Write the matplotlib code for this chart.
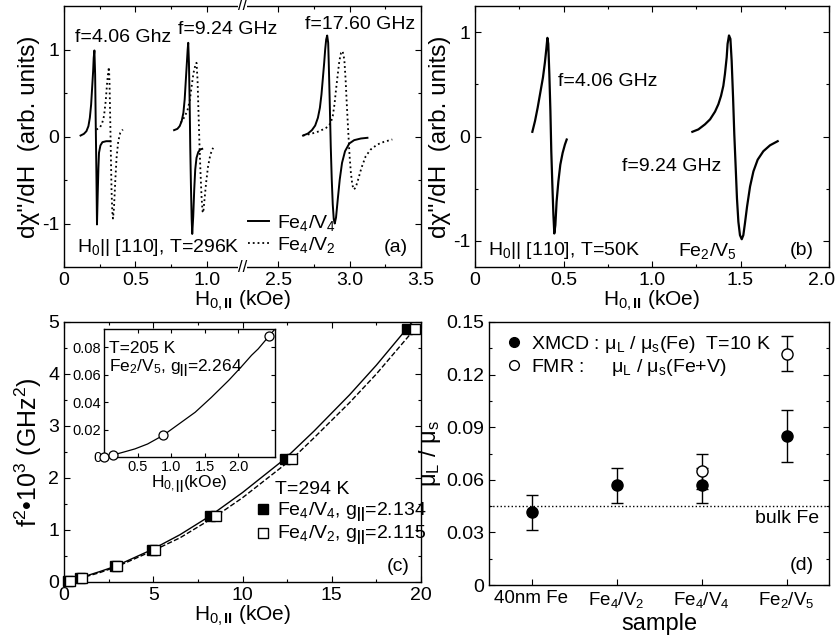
import numpy as np
import matplotlib.pyplot as plt
from matplotlib.lines import Line2D
from matplotlib.transforms import ScaledTranslation

plt.rcParams['font.family'] = ['Liberation Sans', 'DejaVu Sans']
plt.rcParams['mathtext.fontset'] = 'custom'
plt.rcParams['mathtext.rm'] = 'Liberation Sans'
plt.rcParams['mathtext.it'] = 'Liberation Sans:italic'
plt.rcParams['mathtext.bf'] = 'Liberation Sans:bold'
plt.rcParams['axes.unicode_minus'] = False

# ---- panel (a): FMR derivative spectra at 296 K (field in kOe, broken axis) ----
a1_s_x = [0.116, 0.139, 0.157, 0.171, 0.181, 0.190, 0.197, 0.204, 0.208, 0.213, 0.218, 0.222, 0.227,
          0.231, 0.236, 0.241, 0.245, 0.255, 0.269, 0.296, 0.324]
a1_s_y = [0.011, 0.03, 0.061, 0.119, 0.215, 0.368, 0.559, 0.751, 0.904, 0.989, 0.713, 0.176, -0.437,
          -1.011, -0.667, -0.36, -0.188, -0.103, -0.065, -0.054, -0.054]
a1_d_x = [0.227, 0.250, 0.266, 0.280, 0.292, 0.301, 0.310, 0.315, 0.319, 0.324, 0.329, 0.333, 0.338,
          0.343, 0.350, 0.359, 0.368, 0.380, 0.394, 0.412]
a1_d_y = [0.08, 0.10, 0.146, 0.234, 0.406, 0.598, 0.751, 0.797, 0.598, 0.176, -0.284, -0.628, -0.858,
          -0.943, -0.82, -0.513, -0.245, -0.054, 0.042, 0.08]
a2_s_x = [0.771, 0.794, 0.810, 0.824, 0.836, 0.845, 0.852, 0.859, 0.866, 0.870, 0.875, 0.880, 0.884,
          0.889, 0.894, 0.898, 0.905, 0.912, 0.919, 0.928, 0.940, 0.954, 0.968]
a2_s_y = [0.073, 0.088, 0.119, 0.176, 0.272, 0.425, 0.617, 0.808, 1.0, 1.077, 0.847, 0.387, -0.111,
          -0.571, -0.95, -1.12, -0.918, -0.609, -0.379, -0.245, -0.18, -0.149, -0.142]
a2_d_x = [0.817, 0.840, 0.863, 0.880, 0.894, 0.907, 0.921, 0.928, 0.935, 0.942, 0.949, 0.956, 0.963,
          0.970, 0.975, 0.984, 0.995, 1.009, 1.025, 1.044]
a2_d_y = [0.157, 0.215, 0.291, 0.406, 0.579, 0.732, 0.828, 0.847, 0.655, 0.272, -0.111, -0.418, -0.686,
          -0.858, -0.877, -0.724, -0.533, -0.341, -0.207, -0.13]
a3_s_x = [2.674, 2.708, 2.736, 2.759, 2.778, 2.792, 2.803, 2.812, 2.822, 2.829, 2.836, 2.843, 2.850,
          2.854, 2.861, 2.868, 2.875, 2.882, 2.889, 2.896, 2.905, 2.917, 2.931, 2.947, 2.968, 2.998,
          3.032, 3.079, 3.125]
a3_s_y = [0.011, 0.034, 0.073, 0.126, 0.215, 0.33, 0.483, 0.655, 0.847, 1.0, 1.115, 1.161, 1.077,
          0.847, 0.387, -0.111, -0.494, -0.78, -0.95, -1.0, -0.93, -0.724, -0.494, -0.303, -0.169, -0.08,
          -0.042, -0.023, -0.015]
a3_d_x = [2.674, 2.731, 2.789, 2.836, 2.866, 2.882, 2.894, 2.905, 2.917, 2.928, 2.940, 2.951, 2.963,
          2.972, 2.981, 2.991, 3.000, 3.009, 3.019, 3.028, 3.042, 3.060, 3.083, 3.113, 3.148, 3.194,
          3.241, 3.299]
a3_d_y = [0.011, 0.031, 0.061, 0.10, 0.149, 0.234, 0.368, 0.54, 0.713, 0.866, 0.962, 0.981, 0.885,
          0.655, 0.349, 0.042, -0.226, -0.418, -0.552, -0.609, -0.59, -0.494, -0.36, -0.226, -0.149,
          -0.092, -0.061, -0.034]

# ---- panel (b): Fe2/V5 at 50 K ----
b1_x = [0.324, 0.339, 0.354, 0.369, 0.384, 0.395, 0.403, 0.409, 0.414, 0.420, 0.426, 0.431, 0.437,
        0.443, 0.448, 0.454, 0.461, 0.471, 0.482, 0.495, 0.508, 0.518]
b1_y = [0.045, 0.148, 0.276, 0.421, 0.566, 0.71, 0.839, 0.945, 0.887, 0.598, 0.244, -0.141, -0.463,
        -0.752, -0.929, -0.849, -0.624, -0.431, -0.27, -0.158, -0.077, -0.029]
b2_x = [1.228, 1.262, 1.299, 1.328, 1.356, 1.375, 1.390, 1.403, 1.412, 1.422, 1.427, 1.435, 1.443,
        1.450, 1.458, 1.465, 1.473, 1.480, 1.488, 1.497, 1.507, 1.516, 1.525, 1.537, 1.554, 1.573,
        1.597, 1.629, 1.667, 1.710]
b2_y = [0.045, 0.068, 0.116, 0.164, 0.238, 0.309, 0.389, 0.485, 0.598, 0.759, 0.887, 0.968, 0.935,
        0.726, 0.373, 0.019, -0.303, -0.592, -0.817, -0.945, -0.984, -0.945, -0.833, -0.672, -0.479,
        -0.334, -0.222, -0.141, -0.084, -0.045]

# ---- panel (c): f^2 vs resonance field ----
c_f2 = [0.02, 0.08, 0.30, 0.62, 1.27, 2.37, 4.87]
c_h_v4 = [0.24, 0.9, 2.86, 4.91, 8.18, 12.38, 19.2]
c_h_v2 = [0.34, 0.99, 2.99, 5.1, 8.52, 12.79, 19.66]
fit_v4_h = [0, 0.9, 2, 2.86, 4.91, 6.5, 8.18, 10, 12.38, 14, 16, 17.5, 19.2, 19.5]
fit_v4_y = [0, 0.08, 0.2, 0.3, 0.62, 0.91, 1.27, 1.72, 2.37, 2.9, 3.6, 4.17, 4.87, 5.0]
fit_v2_h = [0, 0.99, 2, 2.99, 5.1, 6.5, 8.52, 10, 12.79, 14, 16, 17.5, 19.66, 20]
fit_v2_y = [0, 0.08, 0.18, 0.3, 0.62, 0.85, 1.27, 1.62, 2.37, 2.77, 3.45, 4.0, 4.87, 5.0]
ins_h = [0.0, 0.14, 0.885, 2.46]
ins_y = [0.0, 0.0016, 0.0159, 0.0883]
ins_fit_h = [0.0, 0.14, 0.25, 0.46, 0.65, 0.885, 1.1, 1.36, 1.6, 1.86, 2.05, 2.2, 2.3, 2.46, 2.55]
ins_fit_y = [0.0, 0.0016, 0.003, 0.0059, 0.0095, 0.0159, 0.0235, 0.0327, 0.0435, 0.056, 0.066,
             0.0743, 0.079, 0.0883, 0.0935]

# ---- panel (d): orbital to spin moment ratio ----
samples = ['40nm Fe', r'Fe$_4$/V$_2$', r'Fe$_4$/V$_4$', r'Fe$_2$/V$_5$']
xmcd = [0.0415, 0.057, 0.057, 0.085]
xmcd_err = [0.010, 0.010, 0.010, 0.015]
fmr_idx = [2, 3]
fmr = [0.065, 0.132]
fmr_err = [0.010, 0.010]
bulk_fe = 0.045

TS = 14     # text size
XS = 15     # x label size
YS = 17.5   # y label size
W, H = 840, 642


def px_axes(l, r, t, b):
    return [l / W, 1 - b / H, (r - l) / W, (b - t) / H]


def style(ax, size=TS):
    ax.tick_params(which='both', direction='in', top=True, right=True, labelsize=size)
    ax.tick_params(which='major', length=4, width=0.8)
    ax.tick_params(which='minor', length=2.5, width=0.8)
    for s in ax.spines.values():
        s.set_linewidth(1.0)


def fwd(x):
    x = np.asarray(x, float)
    return np.where(x <= 1.25, x, np.where(x >= 2.25, x - 1.0, 1.25))


def inv(y):
    y = np.asarray(y, float)
    return np.where(y <= 1.25, y, y + 1.0)


fig = plt.figure(figsize=(8.4, 6.42), dpi=100)

# (a)
ax = fig.add_axes(px_axes(64, 421, 6, 267))
ax.set_xscale('function', functions=(fwd, inv))
for xs, ys in [(a1_s_x, a1_s_y), (a2_s_x, a2_s_y), (a3_s_x, a3_s_y)]:
    ax.plot(xs, ys, 'k-', lw=1.4)
for xs, ys in [(a1_d_x, a1_d_y), (a2_d_x, a2_d_y), (a3_d_x, a3_d_y)]:
    ax.plot(xs, ys, 'k:', lw=1.3)
ax.set_xlim(0, 3.5)
ax.set_ylim(-1.5, 1.5)
ax.set_xticks([0, 0.5, 1.0, 2.5, 3.0, 3.5], labels=['0', '0.5', '1.0', '2.5', '3.0', '3.5'])
ax.set_xticks([0.25, 0.75, 2.75, 3.25], minor=True)
ax.set_yticks([-1, 0, 1])
ax.set_yticks([-0.5, 0.5], minor=True)
style(ax)
ax.set_xlabel(r'H$_{0,\mathbf{II}}$ (kOe)', fontsize=XS, labelpad=0)
ax.set_ylabel("d\u03c7''/dH  (arb. units)", fontsize=YS, labelpad=1)
for yy in (0, 1):
    ax.text(0.5, yy, '//', transform=ax.transAxes, ha='center', va='center', fontsize=12,
            bbox=dict(fc='white', ec='none', pad=0.3), clip_on=False, zorder=5)
ax.text(0.031, 0.879, 'f=4.06 Ghz', transform=ax.transAxes, fontsize=TS, va='center')
ax.text(0.319, 0.909, 'f=9.24 GHz', transform=ax.transAxes, fontsize=TS, va='center')
ax.text(0.675, 0.929, 'f=17.60 GHz', transform=ax.transAxes, fontsize=TS, va='center')
ax.text(0.036, 0.073, r'H$_0$|| [110], T=296K', transform=ax.transAxes, fontsize=TS, va='center')
ax.text(0.93, 0.073, '(a)', transform=ax.transAxes, fontsize=TS, va='center', ha='center')
hs = [Line2D([], [], color='k', lw=1.4), Line2D([], [], color='k', ls=':', lw=1.3)]
ax.legend(hs, [r'Fe$_4$/V$_4$', r'Fe$_4$/V$_2$'], loc='center left', bbox_to_anchor=(0.515, 0.128),
          frameon=False, fontsize=TS, handlelength=1.1, handletextpad=0.4, labelspacing=0.1,
          borderpad=0, borderaxespad=0)

# (b)
ax = fig.add_axes(px_axes(475, 829, 6, 267))
ax.plot(b1_x, b1_y, 'k-', lw=1.6)
ax.plot(b2_x, b2_y, 'k-', lw=1.6)
ax.set_xlim(0, 2.0)
ax.set_ylim(-1.25, 1.25)
ax.set_xticks([0, 0.5, 1.0, 1.5, 2.0], labels=['0', '0.5', '1.0', '1.5', '2.0'])
ax.set_xticks([0.25, 0.75, 1.25, 1.75], minor=True)
ax.set_yticks([-1, 0, 1])
ax.set_yticks([-0.5, 0.5], minor=True)
style(ax)
last = ax.xaxis.get_major_ticks()[-1].label1
last.set_transform(last.get_transform() + ScaledTranslation(-5 / 72, 0, fig.dpi_scale_trans))
ax.set_xlabel(r'H$_{0,\mathbf{II}}$ (kOe)', fontsize=XS, labelpad=0)
ax.set_ylabel("d\u03c7''/dH  (arb. units)", fontsize=YS, labelpad=1)
ax.text(0.471, 0.53, 'f=4.06 GHz', fontsize=TS, va='center')
ax.text(0.829, -0.29, 'f=9.24 GHz', fontsize=TS, va='center')
ax.text(0.073, -1.09, r'H$_0$|| [110], T=50K', fontsize=TS, va='center')
ax.text(1.147, -1.10, r'Fe$_2$/V$_5$', fontsize=TS, va='center')
ax.text(1.846, -1.09, '(b)', fontsize=TS, va='center', ha='center')

# (c)
ax = fig.add_axes(px_axes(64, 421, 322, 582))
ax.plot(fit_v4_h, fit_v4_y, 'k-', lw=1.0)
ax.plot(fit_v2_h, fit_v2_y, 'k--', lw=1.0)
ax.plot(c_h_v4, c_f2, 's', color='k', ms=7, mec='k', clip_on=False, zorder=4)
ax.plot(c_h_v2, c_f2, 's', color='white', ms=7, mec='k', mew=1.0, clip_on=False, zorder=4)
ax.set_xlim(0, 20)
ax.set_ylim(0, 5)
ax.set_xticks([0, 5, 10, 15, 20])
ax.set_xticks([2.5, 7.5, 12.5, 17.5], minor=True)
ax.set_yticks([0, 1, 2, 3, 4, 5])
ax.set_yticks([0.5, 1.5, 2.5, 3.5, 4.5], minor=True)
style(ax)
ax.set_xlabel(r'H$_{0,\mathbf{II}}$ (kOe)', fontsize=XS, labelpad=0)
ax.set_ylabel('f$^2$\u202210$^3$ (GHz$^2$)', fontsize=YS + 0.5, labelpad=3)
ax.text(0.591, 0.356, 'T=294 K', transform=ax.transAxes, fontsize=TS, va='center')
ax.text(0.936, 0.059, '(c)', transform=ax.transAxes, fontsize=TS, va='center', ha='center')
hs = [Line2D([], [], ls='none', marker='s', color='k', ms=7),
      Line2D([], [], ls='none', marker='s', mfc='white', mec='k', ms=7)]
ax.legend(hs, [r'Fe$_4$/V$_4$, g$_{\mathbf{||}}$=2.134', r'Fe$_4$/V$_2$, g$_{\mathbf{||}}$=2.115'],
          loc='center left', bbox_to_anchor=(0.535, 0.222), frameon=False, fontsize=TS,
          handlelength=0.8, handletextpad=0.35, labelspacing=0.0, borderpad=0, borderaxespad=0)

# inset
ai = fig.add_axes(px_axes(104, 275, 329, 457))
ai.plot(ins_fit_h, ins_fit_y, 'k-', lw=0.9)
ai.plot(ins_h, ins_y, 'o', mfc='white', mec='k', ms=6.5, mew=0.9, clip_on=False, zorder=4)
ai.set_xlim(0, 2.55)
ai.set_ylim(0, 0.0935)
ai.set_xticks([0.5, 1.0, 1.5, 2.0], labels=['0.5', '1.0', '1.5', '2.0'])
ai.set_yticks([0, 0.02, 0.04, 0.06, 0.08], labels=['0', '0.02', '0.04', '0.06', '0.08'])
ai.tick_params(which='both', direction='in', top=True, right=True, labelsize=10.5, pad=2)
ai.tick_params(length=3, width=0.8)
for s in ai.spines.values():
    s.set_linewidth(1.0)
ai.set_xlabel(r'H$_{0,\mathbf{||}}$(kOe)', fontsize=12.5, labelpad=0)
ai.text(0.029, 0.85, 'T=205 K', transform=ai.transAxes, fontsize=12.5, va='center')
ai.text(0.029, 0.69, r'Fe$_2$/V$_5$, g$_{\mathbf{||}}$=2.264', transform=ai.transAxes, fontsize=12.5, va='center')

# (d)
ax = fig.add_axes(px_axes(489, 829, 322, 585))
pos = np.arange(len(samples))
ax.axhline(bulk_fe, color='k', ls=':', lw=1.0)
ax.errorbar(pos, xmcd, yerr=xmcd_err, fmt='o', color='k', ms=8, capsize=4, elinewidth=1, capthick=1, zorder=3)
ax.errorbar(pos[fmr_idx], fmr, yerr=fmr_err, fmt='o', color='k', mfc='white', ms=8, capsize=4,
            elinewidth=1, capthick=1, zorder=4)
ax.set_xlim(-0.5, 3.5)
ax.set_ylim(0, 0.15)
ax.set_xticks(pos, labels=samples)
ax.set_yticks([0, 0.03, 0.06, 0.09, 0.12, 0.15], labels=['0', '0.03', '0.06', '0.09', '0.12', '0.15'])
ax.set_yticks([0.015, 0.045, 0.075, 0.105, 0.135], minor=True)
style(ax)
ax.tick_params(axis='x', which='both', top=False, labelsize=13.5)
ax.set_xlabel('sample', fontsize=17, labelpad=2)
ax.set_ylabel('\u03bc$_{\\rm L}$ / \u03bc$_{\\rm s}$', fontsize=17, labelpad=2)
ax.text(0.97, 0.251, 'bulk Fe', transform=ax.transAxes, fontsize=TS, va='center', ha='right')
ax.text(0.92, 0.076, '(d)', transform=ax.transAxes, fontsize=TS, va='center', ha='center')
hs = [Line2D([], [], ls='none', marker='o', color='k', ms=7),
      Line2D([], [], ls='none', marker='o', mfc='white', mec='k', ms=7)]
ax.legend(hs, ['XMCD : \u03bc$_{\\rm L}$ / \u03bc$_{\\rm s}$(Fe)  T=10 K',
               'FMR :     \u03bc$_{\\rm L}$ / \u03bc$_{\\rm s}$(Fe+V)'],
          loc='center left', bbox_to_anchor=(0.05, 0.87), frameon=False, fontsize=TS,
          handlelength=0.8, handletextpad=0.5, labelspacing=0.1, borderpad=0, borderaxespad=0)

fig.savefig('out.png', dpi=100)
